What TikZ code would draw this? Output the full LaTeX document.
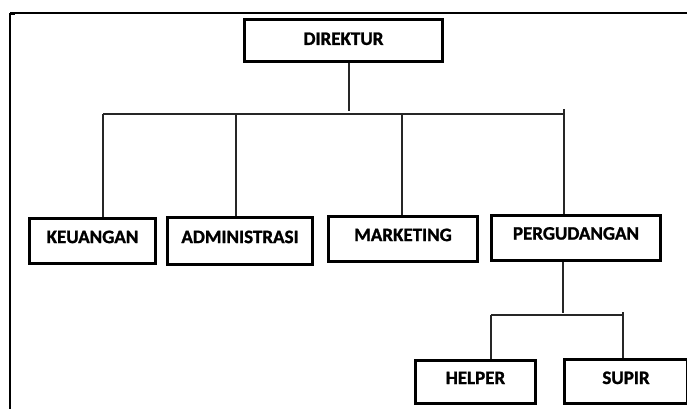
\documentclass[tikz,border=0pt]{standalone}
\usepackage{fontspec}
\setmainfont{Carlito}[BoldFeatures={FakeBold=1.3}]
\begin{document}
\begin{tikzpicture}[x=1pt,y=-1pt,
  orgbox/.style={draw, line width=2.7pt, inner sep=0pt,
    font=\fontsize{19}{19}\selectfont\bfseries,
    text height=12pt, text depth=7.8pt},
  conn/.style={line width=1.2pt, draw=black!85}]
\useasboundingbox (0,0) rectangle (687,409);
% outer frame
\coordinate (ftl) at (10,13);
\coordinate (ftr) at (687,13);
\coordinate (fbl) at (10,409);
\draw[line width=1.3pt] (ftl) -- (ftr);
\draw[line width=2.2pt] (ftl) -- (fbl);
\draw[line width=2.4pt] (9,14) -- (15,14);
% boxes
\node[orgbox, minimum width=198pt, minimum height=42pt, text depth=3.2pt] (dir) at (343.5,40.5) {DIREKTUR};
\node[orgbox, minimum width=126pt, minimum height=45pt] (keu) at (92.5,241) {KEUANGAN};
\node[orgbox, minimum width=145pt, minimum height=47pt] (adm) at (240,241) {ADMINISTRASI};
\node[orgbox, minimum width=149pt, minimum height=45pt] (mkt) at (403,239) {MARKETING};
\node[orgbox, minimum width=169pt, minimum height=45pt, text depth=8.8pt] (pgd) at (576,238) {PERGUDANGAN};
\node[orgbox, minimum width=120pt, minimum height=43pt] (hlp) at (475.5,382) {HELPER};
\node[orgbox, minimum width=123pt, minimum height=44pt, text depth=7pt] (sup) at (626,381.5) {SUPIR};
% top level connectors
\coordinate (dj) at (349,114);
\coordinate (b1) at (103,114);
\coordinate (b2) at (236,114);
\coordinate (b3) at (402,114);
\coordinate (b4) at (564,114);
\draw[conn] (dj |- dir.south) -- ([yshift=3]dj);
\draw[conn] (b1) -- (b4);
\draw[conn] (b1) -- (b1 |- keu.north);
\draw[conn] (b2) -- (b2 |- adm.north);
\draw[conn] (b3) -- (b3 |- mkt.north);
\draw[conn] ([yshift=5]b4) -- (b4 |- pgd.north);
% second level
\coordinate (pj) at (563,315);
\coordinate (c1) at (491,315);
\coordinate (c2) at (623,315);
\draw[conn] (pj |- pgd.south) -- ([yshift=2]pj);
\draw[conn] (c1) -- (c2);
\draw[conn] (c1) -- (c1 |- hlp.north);
\draw[conn] ([yshift=3]c2) -- (c2 |- sup.north);
\end{tikzpicture}
\end{document}
